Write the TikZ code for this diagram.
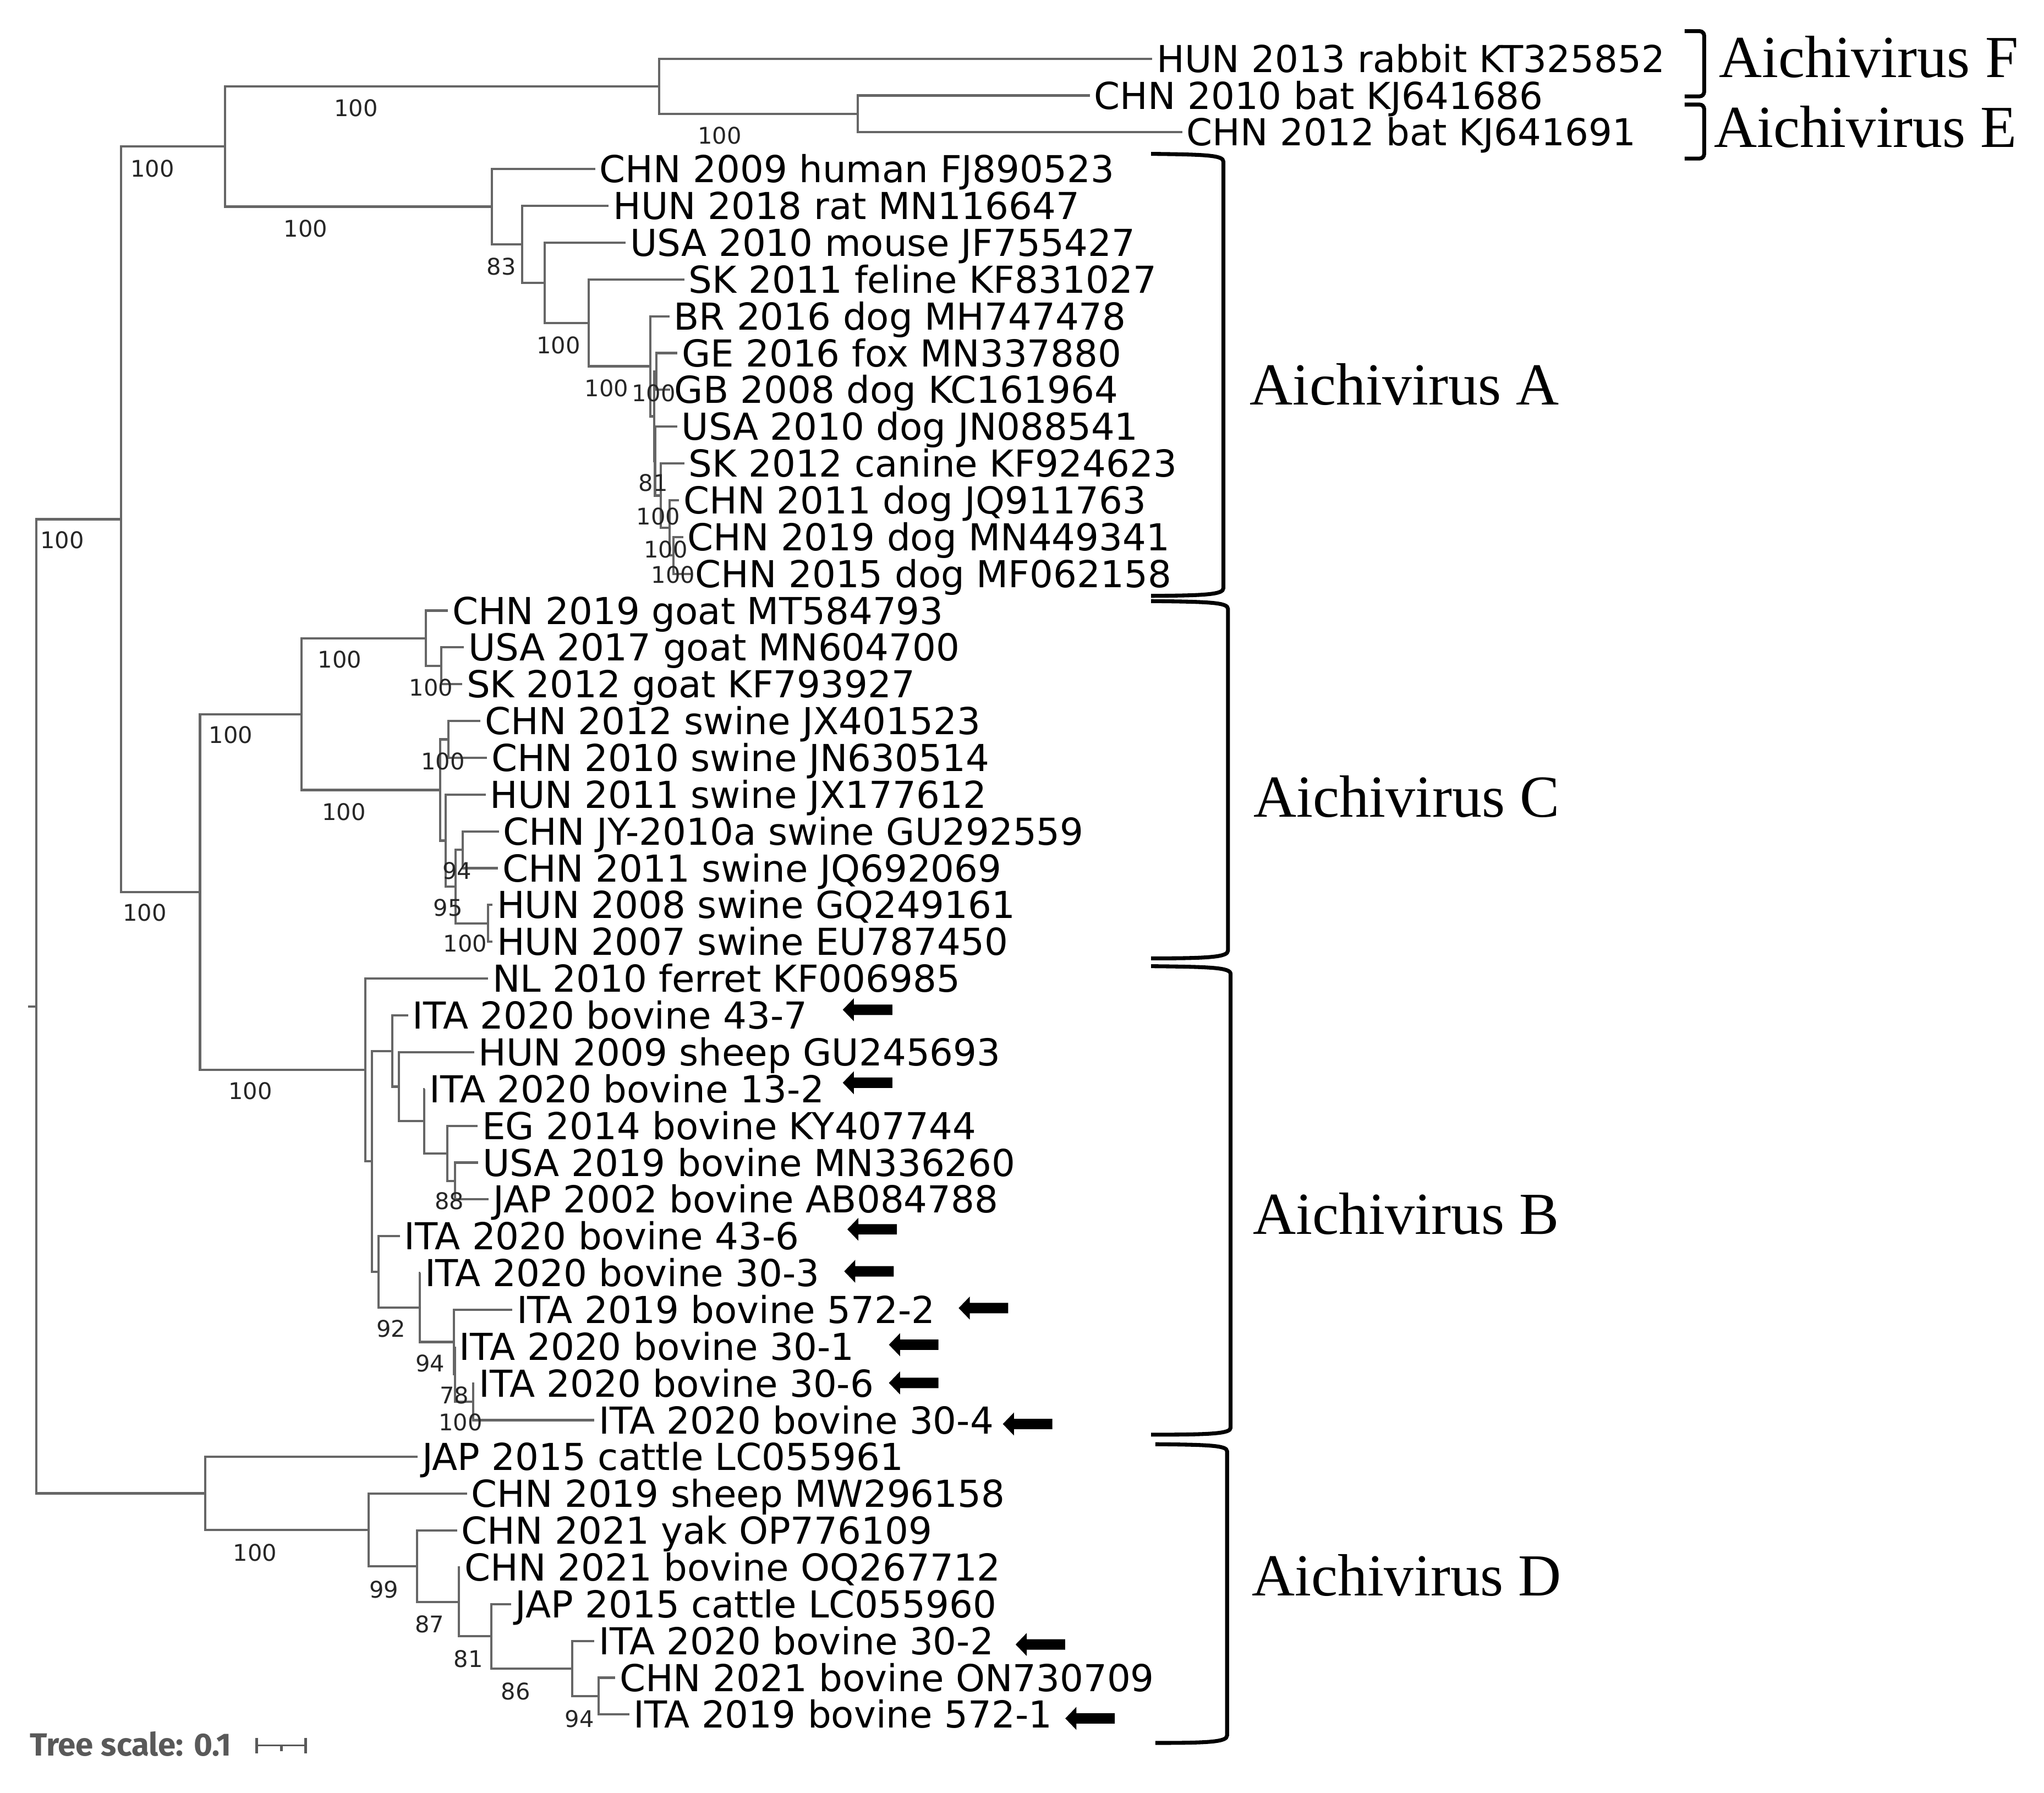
\documentclass[tikz,border=0pt]{standalone}
\usepackage{fontspec}
\setmainfont{DejaVu Sans}
\newfontfamily\cladefont{Liberation Serif}
\newfontfamily\treescalefont{Fira Sans}
\usetikzlibrary{calc}

\tikzset{
  branch/.style={draw=black!60, line width=0.035cm},
  leaf/.style={anchor=west, inner xsep=0.06cm, inner ysep=0pt, text height=11.8pt, text depth=0pt, font=\fontsize{16.2}{19}\selectfont},
  boot/.style={inner sep=0pt, text=black!85, font=\fontsize{10}{12}\selectfont},
  clade/.style={inner sep=0pt, font=\cladefont\fontsize{26}{30}\selectfont},
  bracket/.style={line width=1.7pt},
}

\begin{document}
\begin{tikzpicture}[x=0.02cm, y=-0.02cm]
  \fill[white] (0,0) rectangle (1568,1375);
  \useasboundingbox (0,0) rectangle (1568,1375);

  % internal nodes of the tree
  \foreach \n/\x/\y in {stub/21.5/771.8, R/27.7/771.8, N1/92.8/398.25, Nfea/172.5/112.3, Nfe/505.6/66.17, NE/658/87.33,
      NA0/377.5/158.5, NA1/400.7/187.4, NA2/417.9/216.9, NA3/451.5/247.6, NA4/499/280.9, NA5/501.7/319.3,
      NA6/503.6/284.87, NA7/502.5/353.7, NA8/506.9/380.1, NA9/513.5/404.8, NA10/516.7/425.97,
      Nbc/153.4/684.2, NC0/231.4/547.7, NCg/326.7/489.5, NCg2/338.4/510.63, NCs/337.7/605.9, NCs1/344/567.07,
      NCs2/341.9/644.7, NCs3/349.6/679.95, NCs4/355/651.73, NCs5/374.5/708.17,
      NB0/280.4/820.6, NB1/285.2/890.7, NB2/300.8/806.06, NB3/306/833.4, NB4/325.4/859.86, NB5/343/884.55,
      NB6/348.9/905.71, NB7/290.5/975.4, NB8/322.2/1002.7, NB9/348.2/1029.2, NB10/349/1053.87, NB11/363/1075.03,
      ND0/157.5/1145.3, ND1/282.9/1173.3, ND2/320/1201.1, ND3/352/1228.5, ND4/376.9/1254.9, ND5/439.1/1279.6, ND6/459.2/1300.79}
    \coordinate (\n) at (\x,\y);

  % leaves
  \foreach \n/\x/\y/\t in {1/884/45/HUN 2013 rabbit KT325852, 2/836/73.22/CHN 2010 bat KJ641686, 3/907/101.44/CHN 2012 bat KJ641691,
      4/456.6/129.66/CHN 2009 human FJ890523, 5/467/157.88/HUN 2018 rat MN116647, 6/480/186.1/USA 2010 mouse JF755427,
      7/525/214.32/SK 2011 feline KF831027, 8/513.5/242.54/BR 2016 dog MH747478, 9/519.6/270.76/GE 2016 fox MN337880,
      10/514/298.98/GB 2008 dog KC161964, 11/519.5/327.2/USA 2010 dog JN088541, 12/525/355.42/SK 2012 canine KF924623,
      13/521/383.64/CHN 2011 dog JQ911763, 14/524/411.86/CHN 2019 dog MN449341, 15/530/440.08/CHN 2015 dog MF062158,
      16/343.6/468.3/CHN 2019 goat MT584793, 17/355.9/496.52/USA 2017 goat MN604700, 18/354.6/524.74/SK 2012 goat KF793927,
      19/368.6/552.96/CHN 2012 swine JX401523, 20/373.6/581.18/CHN 2010 swine JN630514, 21/372.6/609.4/HUN 2011 swine JX177612,
      22/382.7/637.62/CHN JY-2010a swine GU292559, 23/382/665.84/CHN 2011 swine JQ692069, 24/377.8/694.06/HUN 2008 swine GQ249161,
      25/377.8/722.28/HUN 2007 swine EU787450, 26/374.5/750.5/NL 2010 ferret KF006985, 27/313/778.72/ITA 2020 bovine 43-7,
      28/363.7/806.94/HUN 2009 sheep GU245693, 29/326/835.16/ITA 2020 bovine 13-2, 30/366.5/863.38/EG 2014 bovine KY407744,
      31/366.9/891.6/USA 2019 bovine MN336260, 32/375/919.82/JAP 2002 bovine AB084788, 33/306.7/948.04/ITA 2020 bovine 43-6,
      34/322.5/976.26/ITA 2020 bovine 30-3, 35/393/1004.48/ITA 2019 bovine 572-2, 36/349/1032.7/ITA 2020 bovine 30-1,
      37/364/1060.92/ITA 2020 bovine 30-6, 38/456/1089.14/ITA 2020 bovine 30-4, 39/320.4/1117.36/JAP 2015 cattle LC055961,
      40/358.2/1145.58/CHN 2019 sheep MW296158, 41/350.7/1173.8/CHN 2021 yak OP776109, 42/353/1202.02/CHN 2021 bovine OQ267712,
      43/391.9/1230.24/JAP 2015 cattle LC055960, 44/456/1258.46/ITA 2020 bovine 30-2, 45/471.9/1286.68/CHN 2021 bovine ON730709,
      46/482.7/1314.9/ITA 2019 bovine 572-1}
    \node[leaf] (l\n) at (\x,\y) {\t};

  % branches
  \draw[branch] (stub) -- (R);
  \foreach \p/\c in {R/N1, R/ND0, N1/Nfea, N1/Nbc, Nfea/Nfe, Nfea/NA0,
      Nfe/l1.west, Nfe/NE, NE/l2.west, NE/l3.west,
      NA0/l4.west, NA0/NA1, NA1/l5.west, NA1/NA2, NA2/l6.west, NA2/NA3, NA3/l7.west, NA3/NA4, NA4/l8.west, NA4/NA5,
      NA5/NA6, NA5/NA7, NA6/l9.west, NA6/l10.west, NA7/l11.west, NA7/NA8, NA8/l12.west, NA8/NA9, NA9/l13.west, NA9/NA10,
      NA10/l14.west, NA10/l15.west,
      Nbc/NC0, Nbc/NB0, NC0/NCg, NC0/NCs, NCg/l16.west, NCg/NCg2, NCg2/l17.west, NCg2/l18.west,
      NCs/NCs1, NCs/NCs2, NCs1/l19.west, NCs1/l20.west, NCs2/l21.west, NCs2/NCs3, NCs3/NCs4, NCs3/NCs5,
      NCs4/l22.west, NCs4/l23.west, NCs5/l24.west, NCs5/l25.west,
      NB0/l26.west, NB0/NB1, NB1/NB2, NB1/NB7, NB2/l27.west, NB2/NB3, NB3/l28.west, NB3/NB4, NB4/l29.west, NB4/NB5,
      NB5/l30.west, NB5/NB6, NB6/l31.west, NB6/l32.west, NB7/l33.west, NB7/NB8, NB8/l34.west, NB8/NB9,
      NB9/l35.west, NB9/NB10, NB10/l36.west, NB10/NB11, NB11/l37.west, NB11/l38.west,
      ND0/l39.west, ND0/ND1, ND1/l40.west, ND1/ND2, ND2/l41.west, ND2/ND3, ND3/l42.west, ND3/ND4,
      ND4/l43.west, ND4/ND5, ND5/l44.west, ND5/ND6, ND6/l45.west, ND6/l46.west}
    \draw[branch] (\p) |- (\c);

  % bootstrap values
  \foreach \x/\y/\v [count=\i] in {47.8/414/100, 117/129.5/100, 273/83/100, 552/104/100, 234.5/175.2/100,
      384.7/204.3/83, 428.4/264.6/100, 465.3/297.7/100, 501.5/301.6/100, 501/370.3/81, 505/396.1/100,
      510.8/421.3/100, 516.3/440.7/100, 111/700/100, 177/563.5/100, 260.6/505.8/100, 330.6/527.4/100,
      263.8/622.6/100, 339.8/584/100, 350.7/668/94, 343.7/696.1/95, 356.8/723.4/100, 192/836.5/100,
      344.7/921/88, 300/1019.1/92, 330/1045.8/94, 348.6/1070/78, 353.2/1090.6/100, 195.7/1190.7/100,
      294.4/1219/99, 329.5/1245.6/87, 359.2/1272.3/81, 395.6/1297.3/86, 444.6/1318.3/94}
    \node[boot] (b\i) at (\x,\y) {\v};

  % arrows for the new strains
  \foreach \ax/\ay in {646.5/774.4, 646.5/830.4, 650/942.8, 647.6/975, 735.4/1003.2, 681.9/1031.3,
      681.9/1060.6, 769.3/1092.1, 779.1/1261.2, 817.2/1317.9}
    \fill (\ax,\ay) -- ++(8.5,8.8) -- ++(0,-4.8) -- ++(29.5,0) -- ++(0,-8) -- ++(-29.5,0) -- ++(0,-4.8) -- cycle;

  % brackets and species
  \draw[bracket, rounded corners=2] (1292.3,23.9) -- (1307.3,23.9) -- (1307.3,73.9) -- (1292.3,73.9);
  \draw[bracket, rounded corners=2] (1292.3,80.2) -- (1307.3,80.2) -- (1307.3,121.6) -- (1292.3,121.6);
  \draw[bracket] (883,118) .. controls (925,118.5) and (938.5,119) .. (938.5,124) -- (938.5,451)
    .. controls (938.5,456) and (925,456.7) .. (883,457);
  \draw[bracket] (883,461) .. controls (928,461.5) and (942,462) .. (942,467) -- (942,729)
    .. controls (942,734) and (928,735) .. (883,735);
  \draw[bracket] (883,741) .. controls (929,741.5) and (944,742) .. (944,747) -- (944,1095)
    .. controls (944,1099.5) and (929,1100.3) .. (883,1100.3);
  \draw[bracket] (886.3,1107.6) .. controls (927,1108) and (941.3,1108.5) .. (941.3,1113) -- (941.3,1331)
    .. controls (941.3,1336) and (927,1336.7) .. (886.3,1336.7);
  \node[clade] (cF) at (1433.4,43.6) {Aichivirus F};
  \node[clade] (cE) at (1431,97.4) {Aichivirus E};
  \node[clade] (cA) at (1077.5,295) {Aichivirus A};
  \node[clade] (cC) at (1079,611) {Aichivirus C};
  \node[clade] (cB) at (1078.5,931) {Aichivirus B};
  \node[clade] (cD) at (1079,1208) {Aichivirus D};

  % tree scale
  \node[anchor=base west, inner sep=0pt, text=black!65, font=\treescalefont\bfseries\fontsize{14}{16}\selectfont] (scale) at (22.6,1346.4) {Tree scale: 0.1};
  \coordinate (sb1) at (196.9,1338.7);
  \coordinate (sb2) at (234.6,1338.7);
  \draw[black!65, line width=0.024cm] (sb1) -- (sb2);
  \draw[black!65, line width=0.04cm] (sb1) ++(0,-6) -- ++(0,12) (sb2) ++(0,-6) -- ++(0,12);
  \draw[black!65, line width=0.04cm] ($(sb1)!0.5!(sb2)$) -- ++(0,4.3);
\end{tikzpicture}
\end{document}
